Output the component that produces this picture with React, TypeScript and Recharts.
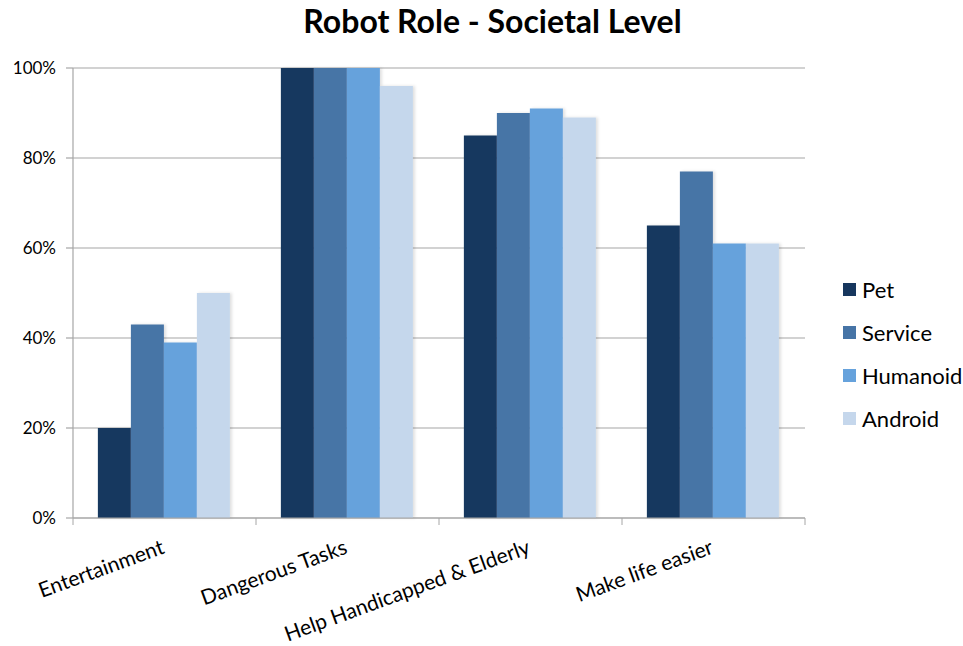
import { BarChart, Bar, XAxis, YAxis, CartesianGrid, Legend } from 'recharts'

const categories = ['Entertainment', 'Dangerous Tasks', 'Help Handicapped & Elderly', 'Make life easier']
const pet = [20, 100, 85, 65]
const service = [43, 100, 90, 77]
const humanoid = [39, 100, 91, 61]
const android = [50, 96, 89, 61]
const yTicks = [0, 20, 40, 60, 80, 100]

const SERIES = [
  { key: 'Pet', values: pet, color: '#17375e' },
  { key: 'Service', values: service, color: '#4674a6' },
  { key: 'Humanoid', values: humanoid, color: '#66a2dc' },
  { key: 'Android', values: android, color: '#c5d7ec' }
]

const data = categories.map((name, i) => {
  const row: any = { name }
  SERIES.forEach((s) => { row[s.key] = s.values[i] })
  return row
})

const FONT = 'Lato, "Open Sans", sans-serif'
const GRID = '#a6a6a6'

// x labels sit at band centres, tick marks go on the band edges
function CategoryTick(props: any) {
  const { x, y, payload, index, visibleTicksCount } = props
  const band = (805 - 73) / categories.length
  const left = x - band / 2
  return (
    <g>
      <line x1={left} x2={left} y1={y - 8} y2={y - 1} stroke={GRID} />
      {index === visibleTicksCount - 1 && (
        <line x1={left + band} x2={left + band} y1={y - 8} y2={y - 1} stroke={GRID} />
      )}
      <text
        transform={`translate(${x + 1},${y + 27}) rotate(-20)`}
        textAnchor="end"
        fontSize={21}
        fontFamily={FONT}
        fill="#000"
      >
        {payload.value}
      </text>
    </g>
  )
}

function SideLegend() {
  return (
    <div style={{ fontFamily: FONT, fontSize: 22, color: '#000' }}>
      {SERIES.map((s) => (
        <div key={s.key} style={{ display: 'flex', alignItems: 'center', height: 43, paddingLeft: 38 }}>
          <span style={{ width: 13, height: 13, flexShrink: 0, background: s.color, marginRight: 6 }} />
          {s.key}
        </div>
      ))}
    </div>
  )
}

export default function App() {
  return (
    <div style={{ position: 'absolute', left: 0, top: 0, width: 963, height: 646, background: '#fff' }}>
      <div
        style={{
          position: 'absolute',
          left: 0,
          width: 985,
          top: 1,
          textAlign: 'center',
          fontFamily: FONT,
          fontWeight: 'bold',
          fontSize: 32
        }}
      >
        Robot Role - Societal Level
      </div>
      <BarChart
        width={963}
        height={646}
        data={data}
        margin={{ top: 68, right: 28, bottom: 0, left: 0 }}
        barCategoryGap="13.6%"
        barGap={0}
      >
        <defs>
          <filter id="barShadow" x="-10%" y="-5%" width="130%" height="110%">
            <feDropShadow dx={2} dy={0} stdDeviation={1.5} floodColor="#000" floodOpacity={0.12} />
          </filter>
        </defs>
        <CartesianGrid vertical={false} stroke={GRID} strokeWidth={1.2} />
        <XAxis
          dataKey="name"
          height={128}
          stroke={GRID}
          strokeWidth={1.2}
          tickLine={false}
          interval={0}
          tick={<CategoryTick />}
        />
        <YAxis
          width={73}
          domain={[0, 100]}
          ticks={yTicks}
          tickFormatter={(v) => `${v}%`}
          stroke={GRID}
          strokeWidth={1.2}
          tickSize={7}
          tickMargin={10}
          tick={{ fill: '#000', fontSize: 17, fontFamily: FONT }}
        />
        <Legend
          layout="vertical"
          align="right"
          verticalAlign="top"
          width={130}
          wrapperStyle={{ top: 268 }}
          content={<SideLegend />}
        />
        {SERIES.map((s) => (
          <Bar
            key={s.key}
            dataKey={s.key}
            fill={s.color}
            filter="url(#barShadow)"
            isAnimationActive={false}
          />
        ))}
      </BarChart>
    </div>
  )
}
